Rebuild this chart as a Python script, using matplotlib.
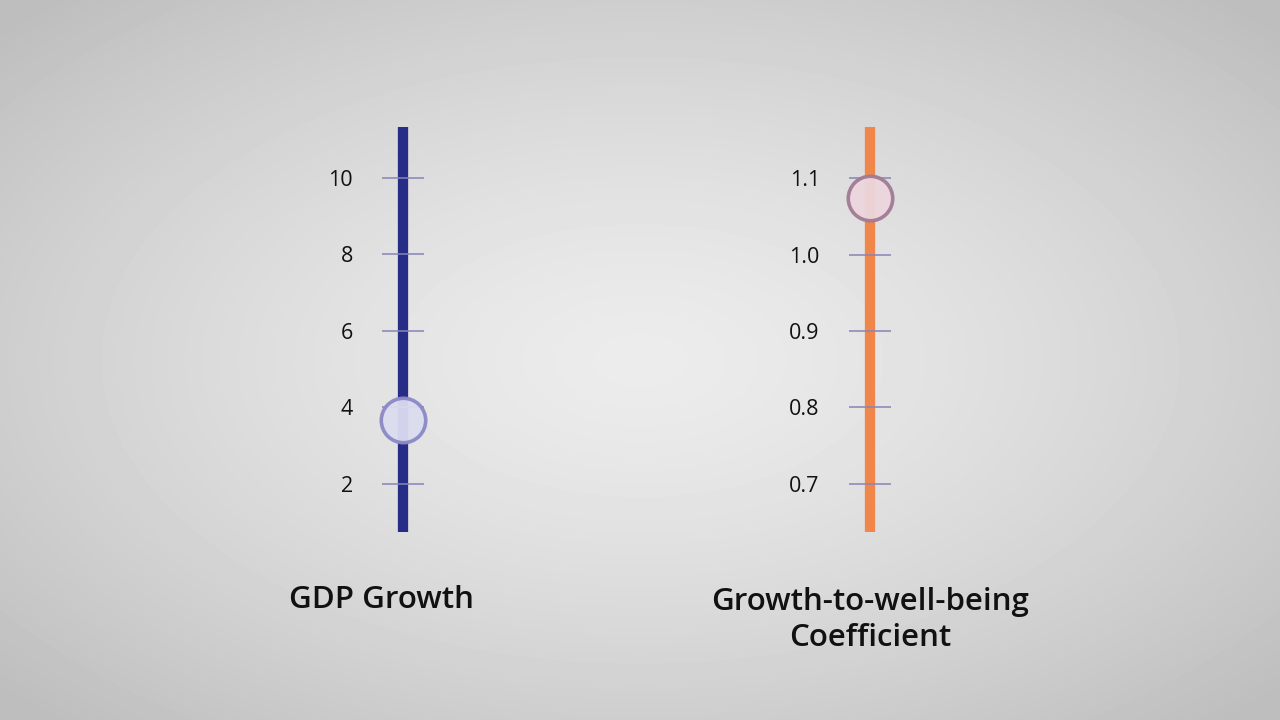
import matplotlib.pyplot as plt
import numpy as np

# gauge data
gdp_ticks = [2, 4, 6, 8, 10]
gdp_range = [0.745, 11.33]
gdp_value = 3.66

coef_ticks = [0.7, 0.8, 0.9, 1.0, 1.1]
coef_labels = ["0.7", "0.8", "0.9", "1.0", "1.1"]
coef_range = [0.637, 1.167]
coef_value = 1.0745

W, H = 1280, 720
fig = plt.figure(figsize=(W / 100, H / 100), dpi=100)

# background: soft radial grey gradient
bg = fig.add_axes([0, 0, 1, 1])
yy, xx = np.mgrid[0:H, 0:W]
r = np.sqrt(((xx - W / 2) / (W / 2)) ** 2 + ((yy - H / 2) / (H / 2)) ** 2)
shade = 0.925 - 0.18 * np.clip(r / 1.35, 0, 1) ** 1.4
bg.imshow(shade, cmap="gray", vmin=0, vmax=1, aspect="auto", extent=[0, 1, 0, 1])
bg.set_axis_off()


def gauge(left_px, ticks, labels, vrange, value, bar_col, face, edge):
    ax = fig.add_axes([left_px / W, (H - 532) / H, 42 / W, 405 / H])
    ax.set_xlim(0, 1)
    ax.set_ylim(vrange[0], vrange[1])
    ax.patch.set_alpha(0)
    for s in ax.spines.values():
        s.set_visible(False)
    ax.vlines(0.5, vrange[0], vrange[1], color=bar_col, linewidth=7.4, zorder=2)
    ax.hlines(ticks, 0, 1, color="#8885b8", linewidth=1.4, alpha=0.8, zorder=3)
    ax.plot([0.5], [value], "o", markersize=32, markerfacecolor=face,
            markeredgecolor=edge, markeredgewidth=2.6, alpha=0.95, zorder=4,
            clip_on=False)
    ax.set_xticks([])
    ax.set_yticks(ticks)
    ax.set_yticklabels(labels, fontsize=15.5, family="Open Sans", color="#111111")
    ax.tick_params(axis="y", length=0, pad=21)


gauge(382, gdp_ticks, [str(t) for t in gdp_ticks], gdp_range, gdp_value,
      "#272c86", "#dcdcf0", "#8b89c6")
gauge(849, coef_ticks, coef_labels, coef_range, coef_value,
      "#f0864a", "#ecd6de", "#a27a93")

fig.text(381 / W, 1 - 600 / H, "GDP Growth", ha="center", va="center",
         fontsize=22.5, family="Open Sans", fontweight="semibold", color="#111111")
fig.text(870 / W, 1 - 620 / H, "Growth-to-well-being\nCoefficient", ha="center",
         va="center", fontsize=22.5, family="Open Sans", fontweight="semibold",
         color="#111111", linespacing=1.26)

fig.savefig("out.png", dpi=100)
